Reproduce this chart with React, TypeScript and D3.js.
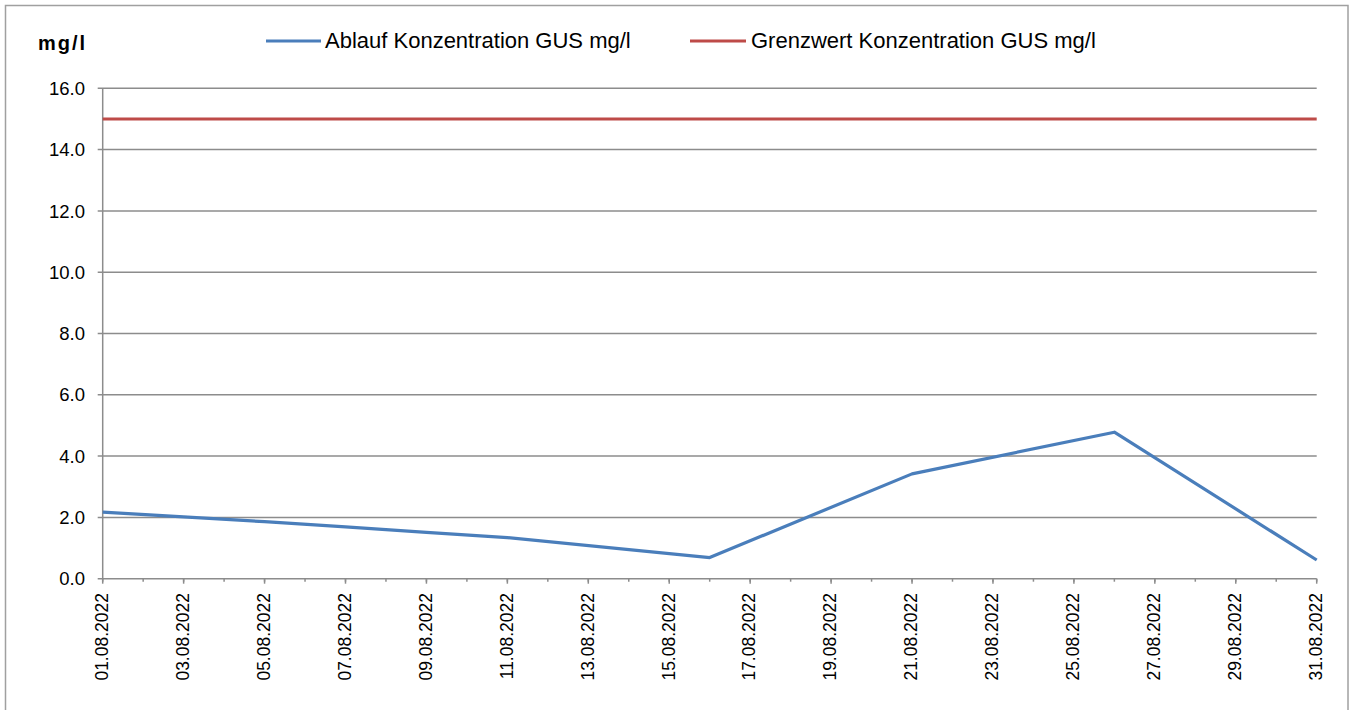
import * as d3 from "d3";

const width = 1357;
const height = 710;
const margin = { left: 102.7, right: 1357 - 1316.7, top: 88.3, bottom: 710 - 578.7 };

// measured dates (dd.mm.yyyy) and values in mg/l
const messDaten = ["01.08.2022", "03.08.2022", "05.08.2022", "07.08.2022", "09.08.2022", "11.08.2022", "16.08.2022", "21.08.2022", "26.08.2022", "31.08.2022"];
const ablaufWerte = [2.17, 2.02, 1.86, 1.69, 1.51, 1.34, 0.69, 3.42, 4.78, 0.61];
const grenzDaten = ["01.08.2022", "31.08.2022"];
const grenzWerte = [15, 15];
const yTicks = [0, 2, 4, 6, 8, 10, 12, 14, 16];

const parse = d3.utcParse("%d.%m.%Y");
const fmt = d3.utcFormat("%d.%m.%Y");

function App() {
  const x = d3
    .scaleUtc()
    .domain([parse("01.08.2022")!, parse("31.08.2022")!])
    .range([margin.left, width - margin.right]);
  const y = d3
    .scaleLinear()
    .domain([0, 16])
    .range([height - margin.bottom, margin.top]);

  const line = d3
    .line<[Date, number]>()
    .x((d) => x(d[0]))
    .y((d) => y(d[1]));

  const ablauf: [Date, number][] = messDaten.map((d, i) => [parse(d)!, ablaufWerte[i]]);
  const grenz: [Date, number][] = grenzDaten.map((d, i) => [parse(d)!, grenzWerte[i]]);

  const majorTicks = x.ticks(d3.utcDay.every(2)!);
  const minorTicks = x.ticks(d3.utcDay.every(1)!);
  const y0 = y(0);
  const font = "'Liberation Sans', Arial, sans-serif";
  const gridColor = "#8c8c8c";

  return (
    <svg
      width={width}
      height={height}
      style={{ position: "absolute", left: 0, top: 0, background: "#fff" }}
      fontFamily={font}
    >
      <rect x={5.5} y={5.5} width={1342.5} height={720} fill="#fff" stroke="#a0a0a0" strokeWidth={1.5} />

      {/* gridlines */}
      {yTicks.map((t) => (
        <line key={"g" + t} x1={margin.left - 5} x2={width - margin.right} y1={y(t)} y2={y(t)} stroke={gridColor} strokeWidth={1.5} />
      ))}
      {/* y axis */}
      <line x1={margin.left} x2={margin.left} y1={y(16)} y2={y0} stroke={gridColor} strokeWidth={1.5} />
      {yTicks.map((t) => (
        <text key={"yl" + t} x={85} y={y(t)} dy="0.36em" textAnchor="end" fontSize={18.5} fill="#000">
          {t.toFixed(1)}
        </text>
      ))}
      {/* x ticks */}
      {minorTicks.map((d) => (
        <line key={"mt" + d.getTime()} x1={x(d)} x2={x(d)} y1={y0} y2={y0 + 3} stroke={gridColor} strokeWidth={1.5} />
      ))}
      {majorTicks.map((d) => (
        <line key={"Mt" + d.getTime()} x1={x(d)} x2={x(d)} y1={y0} y2={y0 + 5} stroke={gridColor} strokeWidth={1.5} />
      ))}
      {majorTicks.map((d) => (
        <text
          key={"xl" + d.getTime()}
          transform={`translate(${x(d) - 1},${593}) rotate(-90)`}
          dy="0.36em"
          textAnchor="end"
          fontSize={17.5}
          fill="#000"
        >
          {fmt(d)}
        </text>
      ))}

      {/* series */}
      <path d={line(grenz)!} fill="none" stroke="#be4b48" strokeWidth={3} />
      <path d={line(ablauf)!} fill="none" stroke="#4a7ebb" strokeWidth={3.2} strokeLinejoin="round" />

      {/* unit */}
      <text x={38} y={50} fontSize={20} fontWeight="bold" letterSpacing={2} fill="#000">
        mg/l
      </text>

      {/* legend */}
      <line x1={266} x2={321} y1={41} y2={41} stroke="#4a7ebb" strokeWidth={3.2} />
      <text x={325} y={48} fontSize={22} fill="#000">
        Ablauf Konzentration GUS mg/l
      </text>
      <line x1={690} x2={746} y1={41} y2={41} stroke="#be4b48" strokeWidth={3.2} />
      <text x={751} y={48} fontSize={22} fill="#000">
        Grenzwert Konzentration GUS mg/l
      </text>
    </svg>
  );
}

export default App;
